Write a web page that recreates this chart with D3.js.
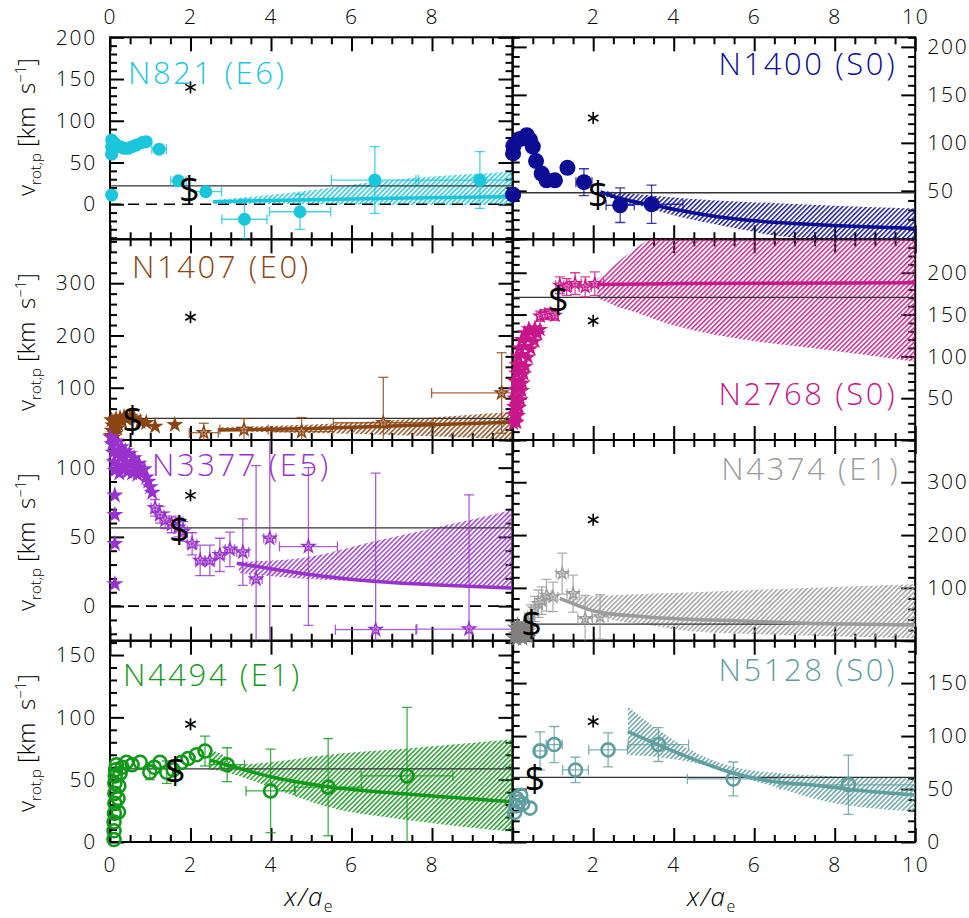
<!DOCTYPE html>
<html>
<head>
<meta charset="utf-8">
<script src="https://cdn.jsdelivr.net/npm/d3@7"></script>
<style>
  html, body { margin: 0; padding: 0; background: #fff; }
  svg { display: block; }
  text { font-family: "Open Sans", "DejaVu Sans", sans-serif; }
</style>
</head>
<body>
<svg id="chart" width="969" height="918"></svg>
<script>
// Projected rotation velocity profiles of eight early-type galaxies.
// x in units of the effective radius a_e, v in km/s.
// Dense inner points: [x, v]; outer points: [x, v, xErr, vErr].
// Model: [x, v]; band: [x, low, high].

const xLabelsLeft = [0, 2, 4, 6, 8];
const xLabelsRight = [2, 4, 6, 8, 10];

// NGC 821 (E6)
const n821Core = [[0.04,77],[0.04,69],[0.04,60],[0.04,11],[0.12,73],[0.25,69],[0.35,67],[0.45,67],[0.55,69],[0.66,71],[0.8,74],[0.9,75]];
const n821Points = [[1.22,66,0.18,0],[1.7,28,0.19,0],[2.38,15,0.39,0],[3.34,-18,0.56,24],[4.72,-9,0.76,21],[6.58,29,1.08,40],[9.19,29,1.59,34]];
const n821Model = [[2.56,3],[5,5.5],[7.5,7.5],[10,9]];
const n821Band = [[2.56,1,5],[4.7,0,15],[6.6,-0.5,27],[10,-1,39]];
const n821Mean = 22;
const n821Dollar = [1.97, 18];
const n821Aster = [2, 140];
const n821YLabels = [0, 50, 100, 150, 200];

// NGC 1400 (S0)
const n1400Core = [[0.01,89],[0.02,97],[0.01,46],[0.18,104],[0.35,108],[0.43,103],[0.5,96],[0.58,81],[0.72,68],[0.84,61],[1.05,61],[1.36,74]];
const n1400Points = [[1.77,59,0.2,14],[2.67,35,0.35,18],[3.45,36,0.78,20]];
const n1400Model = [[2.18,49],[2.67,42],[3.5,35],[4.5,27],[5.8,19.5],[7,16],[7.96,14],[9,12.3],[10,10.8]];
const n1400Band = [[2.2,45,50],[3,36,47],[4.3,21.5,42],[5.8,9,38.5],[6.6,2.8,37],[8,0,34.5],[10,-3,31.6]];
const n1400Mean = 48;
const n1400Dollar = [2.12, 47];
const n1400Aster = [2, 126];
const n1400YLabels = [50, 100, 150, 200];

// NGC 1407 (E0)
const n1407Core = [[0.03,8],[0.08,5],[0.05,18],[0.12,12],[0.07,28],[0.18,22],[0.1,35],[0.04,38],[0.15,40],[0.2,30],[0.25,42],[0.3,36],[0.35,44],[0.42,40],[0.5,45],[0.6,42],[0.75,35],[0.9,33],[1.12,26],[1.61,29]];
const n1407Points = [[2.33,14,0.36,18],[3.33,20,0.6,21],[4.76,16,0.77,27],[6.79,33,1.24,87],[9.73,90,1.74,77]];
const n1407Model = [[2.7,19],[5,22],[7,27],[10,34]];
const n1407Band = [[2.7,17,24],[4,15,27],[6,12,33],[8,7,43],[10,1,54]];
const n1407Mean = 41.5;
const n1407Dollar = [0.56, 41];
const n1407Aster = [2, 235];
const n1407YLabels = [100, 200, 300];

// NGC 2768 (S0)
const n2768Core = [[0.02,20],[0.06,22],[0.1,21],[0.02,30],[0.08,31],[0.13,29],[0.03,40],[0.1,42],[0.16,39],[0.04,50],[0.12,51],[0.2,48],[0.05,60],[0.14,62],[0.23,59],[0.06,70],[0.16,71],[0.25,68],[0.08,80],[0.18,82],[0.28,79],[0.1,90],[0.2,91],[0.32,88],[0.13,100],[0.24,102],[0.38,99],[0.16,110],[0.3,112],[0.45,109],[0.22,120],[0.38,121],[0.55,118],[0.3,128],[0.45,129],[0.62,127],[0.4,133],[0.55,134],[0.68,132]];
const n2768Points = [[0.68,148,0.08,6],[0.8,150,0.08,6],[0.93,151,0.08,6],[1.05,149,0.08,6],[1.17,185,0.1,10],[1.34,183,0.12,10],[1.55,187,0.15,13],[1.8,183,0.15,12],[2.04,187,0.22,14]];
const n2768Model = [[2.1,186],[4,187],[6,187.5],[10,188]];
const n2768Band = [[2.1,170,192],[2.67,158,215],[3.16,151,233],[3.6,143,245],[4.16,135,250],[5.81,119.5,260],[7.47,109.6,265],[10,93.6,270]];
const n2768Mean = 170.5;
const n2768Dollar = [1.13, 169];
const n2768Aster = [2, 142.6];
const n2768YLabels = [50, 100, 150, 200];

// NGC 3377 (E5)
const n3377Core = [[0.02,122],[0.05,117],[0.08,111],[0.1,104],[0.12,98],[0.15,119],[0.18,110],[0.2,102],[0.23,96],[0.28,115],[0.3,108],[0.33,100],[0.38,112],[0.4,104],[0.43,97],[0.48,110],[0.5,102],[0.55,96],[0.6,107],[0.63,100],[0.68,95],[0.72,103],[0.78,98],[0.85,99],[0.9,93],[0.95,90],[1.0,86],[1.05,82],[0.12,80],[0.12,66],[0.12,45],[0.12,16]];
const n3377Points = [[1.12,71,0.1,6],[1.24,66,0.1,6],[1.37,62,0.1,6],[1.53,59,0.1,6],[1.7,57,0.1,7],[1.82,54,0.1,7],[2.04,45,0.12,8],[2.24,33,0.12,11],[2.48,33,0.12,11],[2.73,37,0.12,12],[2.98,41,0.12,12.5],[3.3,39,0.15,24],[3.63,19.5,0.15,82],[3.97,49,0.15,90],[4.93,43,0.72,57],[6.6,-17,1.0,113],[8.92,-16.6,1.3,97]];
const n3377Model = [[3.15,31],[4.72,23.8],[6.62,17.8],[8,15.5],[10,13]];
const n3377Band = [[3.2,24,32],[4.72,20,34.6],[6.6,17.5,47],[8,15.5,56],[10,13,69.5]];
const n3377Mean = 56.5;
const n3377Dollar = [1.72, 56];
const n3377Aster = [2, 80];
const n3377YLabels = [0, 50, 100];

// NGC 4374 (E1)
const n4374Core = [[0.03,5],[0.08,12],[0.15,8],[0.22,15],[0.3,10],[0.38,18],[0.05,25],[0.12,30],[0.2,22],[0.28,28],[0.35,32],[0.42,25],[0.1,3],[0.25,3],[0.4,6]];
const n4374Points = [[0.45,48,0.08,20],[0.55,60,0.08,24],[0.64,70,0.1,26],[0.72,76,0.1,26],[0.84,86,0.12,30],[1.0,83,0.12,28],[1.23,127,0.15,39],[1.5,89,0.15,35],[1.8,42,0.18,44],[2.17,45,0.2,42]];
const n4374Model = [[1.17,80],[1.5,70],[2.09,54.7],[3.33,45],[4.98,39],[7.47,32.8],[10,29.6]];
const n4374Band = [[1.4,72,82],[1.67,68,83],[2.5,39,86],[3.33,30,89],[4.16,20,91],[5.81,13,95.7],[6.64,10.8,98],[10,4.5,107]];
const n4374Mean = 31.5;
const n4374Dollar = [0.47, 33];
const n4374Aster = [2, 229];
const n4374YLabels = [100, 200, 300];

// NGC 4494 (E1)
const n4494Core = [[0.1,2],[0.1,9],[0.1,16],[0.11,23],[0.12,31],[0.12,39],[0.12,47],[0.13,53],[0.14,58],[0.16,62],[0.21,24],[0.2,35],[0.22,45],[0.25,55],[0.3,60],[0.41,64],[0.55,62],[0.75,64],[1.1,60],[1.24,64],[1.78,64],[1.94,67],[2.15,70]];
const n4494Points = [[0.99,56,0,6],[1.41,56,0,9],[1.57,58,0,0],[2.36,73,0,12],[2.91,62,0.43,13.6],[3.99,41,0.61,33.5],[5.42,44,0.83,39],[7.38,53,1.14,55]];
const n4494Model = [[2.48,65.8],[2.91,61.8],[3.99,52.4],[5.42,44.4],[7.38,38.5],[10,32.3]];
const n4494Band = [[2.45,58,74],[2.9,56,68],[3.1,54,62],[3.99,44,64],[5.42,28,70],[7.38,17.6,75],[10,8.3,82.4]];
const n4494Mean = 58.6;
const n4494Dollar = [1.62, 58];
const n4494Aster = [2, 94.4];
const n4494YLabels = [0, 50, 100, 150];

// NGC 5128 (S0)
const n5128Core = [[0.05,28],[0.08,34],[0.1,41],[0.15,38],[0.2,44],[0.25,36],[0.43,32]];
const n5128Points = [[0.68,86,0.12,18],[1.03,92,0.2,17],[1.56,68,0.32,12],[2.37,87,0.48,16],[3.62,92,0.75,16],[5.48,59.5,1.14,16],[8.34,54,1.7,28]];
const n5128Model = [[2.86,104.3],[3.62,91.7],[4.57,77],[5.48,65],[6.47,57],[7.47,53.9],[8.5,49],[10,44.4]];
const n5128Band = [[2.86,82,128],[3.62,80,106],[4.57,74,84],[5.48,63,71],[6.64,50.6,65],[7.47,41,63],[10,28.6,60]];
const n5128Mean = 61;
const n5128Dollar = [0.55, 60];
const n5128Aster = [2, 113.7];
const n5128YLabels = [0, 50, 100, 150];

// ---- layout ----
const colLeft = [110, 512.7];
const colW = 402.5;
const rowTop = [37.3, 239.3, 440, 640.7, 842];
const xDomain = [0, 10];
const yTitleCenter = [127, 342, 542, 743];

const panels = [
  {title:"N821 (E6)", col:0, row:0, color:"#19c6dc", marker:"disc", size:6.5, yDomain:[-42,200], yStep:50, yMinor:10, yLabels:n821YLabels, zero:true,
   core:n821Core, points:n821Points, model:n821Model, band:n821Band, mean:n821Mean, dollar:n821Dollar, aster:n821Aster, tpos:[18,47], anchor:"start"},
  {title:"N1400 (S0)", col:1, row:0, color:"#0c0c94", marker:"disc", size:8, yDomain:[-0.5,210], yStep:50, yMinor:10, yLabels:n1400YLabels, zero:false,
   core:n1400Core, points:n1400Points, model:n1400Model, band:n1400Band, mean:n1400Mean, dollar:n1400Dollar, aster:n1400Aster, tpos:[-18,38], anchor:"end"},
  {title:"N1407 (E0)", col:0, row:1, color:"#8b4513", marker:"star", size:9, yDomain:[0,384], yStep:100, yMinor:20, yLabels:n1407YLabels, zero:false,
   core:n1407Core, points:n1407Points, model:n1407Model, band:n1407Band, mean:n1407Mean, dollar:n1407Dollar, aster:n1407Aster, tpos:[22,39], anchor:"start"},
  {title:"N2768 (S0)", col:1, row:1, color:"#c8178a", marker:"star", size:8.5, yDomain:[0,240], yStep:50, yMinor:10, yLabels:n2768YLabels, zero:false,
   core:n2768Core, points:n2768Points, model:n2768Model, band:n2768Band, mean:n2768Mean, dollar:n2768Dollar, aster:n2768Aster, tpos:[-18,166], anchor:"end"},
  {title:"N3377 (E5)", col:0, row:2, color:"#9932cc", marker:"star", size:9, yDomain:[-25,120], yStep:50, yMinor:10, yLabels:n3377YLabels, zero:true,
   core:n3377Core, points:n3377Points, model:n3377Model, band:n3377Band, mean:n3377Mean, dollar:n3377Dollar, aster:n3377Aster, tpos:[42,36], anchor:"start"},
  {title:"N4374 (E1)", col:1, row:2, color:"#9b9b9b", coreColor:"#808080", marker:"star", size:8.5, yDomain:[0,380], yStep:100, yMinor:20, yLabels:n4374YLabels, zero:false,
   core:n4374Core, points:n4374Points, model:n4374Model, band:n4374Band, mean:n4374Mean, dollar:n4374Dollar, aster:n4374Aster, tpos:[-15,40], anchor:"end"},
  {title:"N4494 (E1)", col:0, row:3, color:"#12991a", marker:"ring", size:6.5, yDomain:[0,161.5], yStep:50, yMinor:10, yLabels:n4494YLabels, zero:false,
   core:n4494Core, points:n4494Points, model:n4494Model, band:n4494Band, mean:n4494Mean, dollar:n4494Dollar, aster:n4494Aster, tpos:[13,45], anchor:"start"},
  {title:"N5128 (S0)", col:1, row:3, color:"#5f9ea0", marker:"ring", size:6.5, yDomain:[0,190], yStep:50, yMinor:10, yLabels:n5128YLabels, zero:false,
   core:n5128Core, points:n5128Points, model:n5128Model, band:n5128Band, mean:n5128Mean, dollar:n5128Dollar, aster:n5128Aster, tpos:[-18,40], anchor:"end"}
];

const svg = d3.select("#chart");
const defs = svg.append("defs");
const frameLayer = svg.append("g");
const dataLayer = svg.append("g");
const textLayer = svg.append("g");

const starPath = R => d3.symbol().type(d3.symbolStar).size(R * R / 0.8908130915)();

function majorMinor(lo, hi, step, minorStep) {
  const maj = d3.range(Math.ceil(lo / step - 1e-9) * step, hi + 1e-9, step);
  const min = d3.range(Math.ceil(lo / minorStep - 1e-9) * minorStep, hi + 1e-9, minorStep)
    .filter(v => !maj.some(m => Math.abs(m - v) < 1e-9));
  return [maj, min];
}

function styleAxis(sel, fontSize) {
  sel.select(".domain").remove();
  sel.selectAll(".tick line").attr("stroke", "#000").attr("stroke-width", 2);
  sel.selectAll(".tick text").attr("fill", "#000").attr("font-size", fontSize)
    .attr("font-family", "Open Sans, DejaVu Sans, sans-serif").attr("font-weight", 300)
    .attr("letter-spacing", 1.8);
}

panels.forEach((p, i) => {
  const x0 = colLeft[p.col], x1 = x0 + colW;
  const y0 = rowTop[p.row], y1 = rowTop[p.row + 1];
  const xs = d3.scaleLinear().domain(xDomain).range([x0, x1]);
  const ys = d3.scaleLinear().domain(p.yDomain).range([y1, y0]);

  // ---- frame and ticks ----
  const [xMaj, xMin] = majorMinor(0, 10, 2, 0.5);
  const [yMaj, yMin] = majorMinor(p.yDomain[0], p.yDomain[1], p.yStep, p.yMinor);
  const xLab = p.col === 0 ? xLabelsLeft : xLabelsRight;
  const fmt = list => v => list.some(l => Math.abs(l - v) < 1e-9) ? d3.format("d")(v) : "";
  const none = () => "";

  const fg = frameLayer.append("g");
  const mk = (gen, scale, vals, len, format, pad, transform) => {
    fg.append("g").attr("transform", transform)
      .call(gen(scale).tickValues(vals).tickSize(-len).tickFormat(format).tickPadding(pad))
      .call(s => styleAxis(s, 21));
  };
  // bottom
  mk(d3.axisBottom, xs, xMaj, 14, p.row === 3 ? fmt(xLab) : none, 15, `translate(0,${y1})`);
  mk(d3.axisBottom, xs, xMin, 7, none, 0, `translate(0,${y1})`);
  // top
  mk(d3.axisTop, xs, xMaj, 14, p.row === 0 ? fmt(xLab) : none, 13, `translate(0,${y0})`);
  mk(d3.axisTop, xs, xMin, 7, none, 0, `translate(0,${y0})`);
  // left
  mk(d3.axisLeft, ys, yMaj, 14, p.col === 0 ? fmt(p.yLabels) : none, 13, `translate(${x0},0)`);
  mk(d3.axisLeft, ys, yMin, 7, none, 0, `translate(${x0},0)`);
  // right
  mk(d3.axisRight, ys, yMaj, 14, p.col === 1 ? fmt(p.yLabels) : none, 12, `translate(${x1},0)`);
  mk(d3.axisRight, ys, yMin, 7, none, 0, `translate(${x1},0)`);
  fg.append("rect").attr("x", x0).attr("y", y0).attr("width", colW).attr("height", y1 - y0)
    .attr("fill", "none").attr("stroke", "#000").attr("stroke-width", 2);

  // ---- clipped content ----
  defs.append("clipPath").attr("id", "clip" + i)
    .append("rect").attr("x", x0).attr("y", y0).attr("width", colW).attr("height", y1 - y0);
  const pat = defs.append("pattern").attr("id", "hatch" + i)
    .attr("patternUnits", "userSpaceOnUse").attr("width", 3.4).attr("height", 3.4)
    .attr("patternTransform", "rotate(45)");
  pat.append("line").attr("x1", 0.8).attr("y1", 0).attr("x2", 0.8).attr("y2", 3.4)
    .attr("stroke", p.color).attr("stroke-width", 1.4);

  const dg = dataLayer.append("g");
  const cg = dg.append("g").attr("clip-path", `url(#clip${i})`);

  cg.append("path").datum(p.band)
    .attr("d", d3.area().x(d => xs(d[0])).y0(d => ys(d[1])).y1(d => ys(d[2])).curve(d3.curveMonotoneX))
    .attr("fill", `url(#hatch${i})`);

  if (p.zero) {
    cg.append("line").attr("x1", x0).attr("x2", x1).attr("y1", ys(0)).attr("y2", ys(0))
      .attr("stroke", "#000").attr("stroke-width", 1.6).attr("stroke-dasharray", "11,7");
  }

  cg.append("line").attr("x1", x0).attr("x2", x1).attr("y1", ys(p.mean)).attr("y2", ys(p.mean))
    .attr("stroke", "#333").attr("stroke-width", 1.3);

  cg.append("path").datum(p.model)
    .attr("d", d3.line().x(d => xs(d[0])).y(d => ys(d[1])).curve(d3.curveMonotoneX))
    .attr("fill", "none").attr("stroke", p.color).attr("stroke-width", 3.5);

  // error bars
  const eb = cg.append("g").attr("stroke", p.color).attr("stroke-width", 1.3).attr("stroke-opacity", 0.8);
  const cap = 5;
  p.points.forEach(d => {
    const [x, v, xe, ve] = d;
    if (ve > 0) {
      eb.append("line").attr("x1", xs(x)).attr("x2", xs(x)).attr("y1", ys(v - ve)).attr("y2", ys(v + ve));
      [v - ve, v + ve].forEach(e => eb.append("line")
        .attr("x1", xs(x) - cap).attr("x2", xs(x) + cap).attr("y1", ys(e)).attr("y2", ys(e)));
    }
    if (xe > 0) {
      eb.append("line").attr("x1", xs(x - xe)).attr("x2", xs(x + xe)).attr("y1", ys(v)).attr("y2", ys(v));
      [x - xe, x + xe].forEach(e => eb.append("line")
        .attr("x1", xs(e)).attr("x2", xs(e)).attr("y1", ys(v) - cap).attr("y2", ys(v) + cap));
    }
  });

  // markers
  const drawMarker = (x, v, color, R, inner) => {
    if (p.marker === "disc") {
      dg.append("circle").attr("cx", xs(x)).attr("cy", ys(v)).attr("r", R).attr("fill", color);
    } else if (p.marker === "ring") {
      dg.append("circle").attr("cx", xs(x)).attr("cy", ys(v)).attr("r", R)
        .attr("fill", "none").attr("stroke", color).attr("stroke-width", 2.6);
    } else {
      const t = `translate(${xs(x)},${ys(v)})`;
      dg.append("path").attr("transform", t).attr("d", starPath(R)).attr("fill", color);
      if (inner) {
        dg.append("path").attr("transform", t).attr("d", starPath(R * 0.38))
          .attr("fill", "none").attr("stroke", "#fff").attr("stroke-width", 0.6).attr("stroke-opacity", 0.7);
      }
    }
  };
  p.core.forEach(d => drawMarker(d[0], d[1], p.coreColor || p.color, p.size, false));
  p.points.forEach(d => drawMarker(d[0], d[1], p.color, p.size, true));

  // characteristic-radius markers
  textLayer.append("text").attr("x", xs(p.dollar[0])).attr("y", ys(p.dollar[1]))
    .attr("text-anchor", "middle").attr("dy", "0.36em")
    .attr("font-family", "Liberation Serif, DejaVu Serif, serif").attr("font-size", 36)
    .attr("fill", "#000").text("$");
  const ax = xs(p.aster[0]), ay = ys(p.aster[1]), r = 6;
  const a = textLayer.append("g").attr("stroke", "#000").attr("stroke-width", 1.7);
  [90, 30, -30].forEach(deg => {
    const t = deg * Math.PI / 180;
    a.append("line").attr("x1", ax - r * Math.cos(t)).attr("y1", ay - r * Math.sin(t))
      .attr("x2", ax + r * Math.cos(t)).attr("y2", ay + r * Math.sin(t));
  });

  // panel title
  textLayer.append("text")
    .attr("x", p.anchor === "start" ? x0 + p.tpos[0] : x1 + p.tpos[0])
    .attr("y", y0 + p.tpos[1])
    .attr("text-anchor", p.anchor).attr("font-size", 31).attr("font-weight", 300)
    .attr("fill", p.color).attr("letter-spacing", 2.6)
    .text(p.title);
});

// y-axis titles on the left of each row
yTitleCenter.forEach(cy => {
  const t = textLayer.append("text").attr("transform", `translate(35,${cy}) rotate(-90)`)
    .attr("text-anchor", "middle").attr("font-size", 24).attr("font-weight", 300).attr("fill", "#000");
  t.append("tspan").text("v");
  t.append("tspan").attr("font-size", 15).attr("dy", 6).text("rot,p");
  t.append("tspan").attr("dy", -6).text(" [km\u00a0 s");
  t.append("tspan").attr("font-size", 15).attr("dy", -9).text("\u22121");
  t.append("tspan").attr("dy", 9).text("]");
});

// x-axis titles under each column
colLeft.forEach(x0 => {
  const t = textLayer.append("text").attr("x", x0 + colW / 2 - 2).attr("y", 906)
    .attr("text-anchor", "middle").attr("font-size", 26).attr("font-style", "italic").attr("font-weight", 300)
    .attr("fill", "#000").attr("letter-spacing", 1.5);
  t.append("tspan").text("x/a");
  t.append("tspan").attr("font-size", 16).attr("font-style", "normal").attr("dy", 6).text("e");
});
</script>
</body>
</html>
